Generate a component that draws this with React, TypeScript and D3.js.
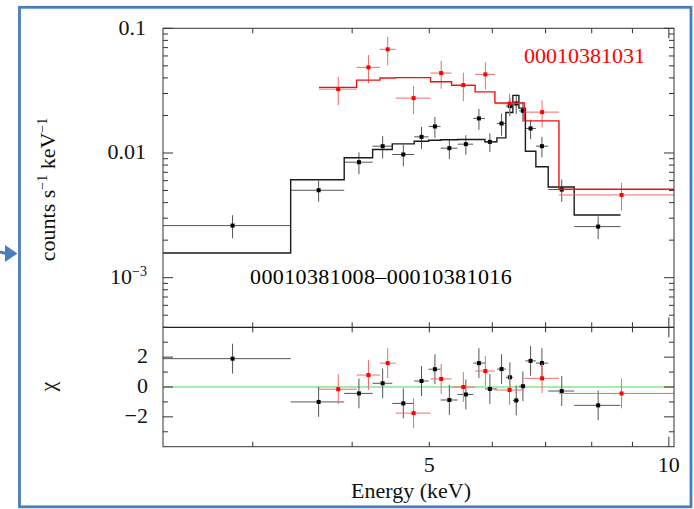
import React from 'react';
import * as d3 from 'd3';

// ---------- data ----------
const blackEdges = [2.314, 3.348, 3.909, 4.244, 4.492, 4.786, 4.99, 5.166, 5.426, 5.677, 5.873, 6.08, 6.24, 6.368, 6.48, 6.603, 6.806, 7.053, 7.604, 8.695];
const blackEnergy = [2.83, 3.63, 4.079, 4.369, 4.638, 4.889, 5.082, 5.299, 5.558, 5.772, 5.958, 6.163, 6.313, 6.43, 6.555, 6.703, 6.926, 7.335, 8.15];
const blackRate = [0.002617, 0.005025, 0.008436, 0.01134, 0.009727, 0.01347, 0.01633, 0.01093, 0.01177, 0.01893, 0.01228, 0.01725, 0.02376, 0.02497, 0.02179, 0.01573, 0.01134, 0.005091, 0.002568];
const blackErr = [0.00055, 0.00096, 0.00167, 0.0023, 0.0019, 0.0027, 0.0031, 0.002, 0.0021, 0.0036, 0.0021, 0.0035, 0.004, 0.0044, 0.004, 0.0028, 0.0021, 0.00104, 0.00053];
const blackModel = [0.001576, 0.006103, 0.009168, 0.010668, 0.011833, 0.012435, 0.012667, 0.012785, 0.012833, 0.012833, 0.01228, 0.013225, 0.02115, 0.02896, 0.0229, 0.010339, 0.007762, 0.005342, 0.003183];
const blackChi = [1.9, -1.0, -0.43, 0.25, -1.1, 0.4, 1.19, -0.87, -0.5, 1.6, -0.13, 1.2, 0.65, -0.9, 0.05, 1.75, 1.6, -0.27, -1.23];
const blackChiErr = [1, 1, 1, 1, 1, 1, 1, 1, 1, 1, 1, 1, 1, 1, 1, 1, 1, 1, 1];

const redEdges = [3.633, 4.052, 4.335, 4.536, 5.019, 5.333, 5.71, 6.045, 6.58, 7.276, 10.17];
const redEnergy = [3.842, 4.193, 4.433, 4.778, 5.175, 5.518, 5.881, 6.307, 6.93, 8.721];
const redRate = [0.03254, 0.04861, 0.0678, 0.02755, 0.04375, 0.03504, 0.04271, 0.02489, 0.02127, 0.004607];
const redErr = [0.0083, 0.0124, 0.0175, 0.007, 0.011, 0.009, 0.0105, 0.005, 0.0052, 0.00116];
const redModel = [0.03358, 0.03843, 0.03989, 0.0402, 0.03724, 0.03484, 0.0309, 0.02525, 0.0181, 0.00512];
const redChi = [-0.15, 0.8, 1.6, -1.75, 0.54, 0.0, 1.07, -0.2, 0.58, -0.43];
const redChiErr = [1, 1, 1, 1, 1, 1, 1, 1, 1, 1];

const xMinorTicks = [3, 4, 5, 6, 7, 8, 9];
const xMajorTicks = [10];
const xTickLabels = [5, 10];
const yTopMajor = [0.001, 0.01, 0.1];
const resMajor = [-2, 0, 2];
const resMinor = [-3, -1, 1, 3];

const redLabel = '00010381031';
const blackLabel = '00010381008–00010381016';

// ---------- layout ----------
const W = 694, H = 509;
const L = 163, R = 674, T = 28.3, M = 327.3, B = 446.7;
const FONT = "'Liberation Serif', 'Times New Roman', serif";

export default function App() {
  const x = d3.scaleLog().domain([2.314, 10.15]).range([L, R]);
  const yTop = d3.scaleLog().domain([4e-4, 0.1]).range([M, T]);
  const yRes = d3.scaleLinear().domain([-4, 4]).range([B, M]);

  const yTopMinor: number[] = [];
  [1e-4, 1e-3, 1e-2].forEach((d) => {
    for (let k = 2; k <= 9; k++) {
      const v = k * d;
      if (v >= 4e-4 && v < 0.1) yTopMinor.push(v);
    }
  });

  const line = d3.line();
  const step = (edges: number[], model: number[], y: (v: number) => number) => {
    const pts: [number, number][] = [];
    model.forEach((m, i) => {
      pts.push([x(edges[i]), y(m)]);
      pts.push([x(edges[i + 1]), y(m)]);
    });
    return line(pts) || '';
  };

  const crosses = (
    edges: number[], energy: number[], vals: number[], errs: number[],
    y: (v: number) => number, isLog: boolean, barColor: string, dotColor: string, key: string
  ) =>
    energy.map((e, i) => {
      const cx = x(e);
      const cy = y(vals[i]);
      const lo = isLog ? Math.max(vals[i] - errs[i], 1e-6) : vals[i] - errs[i];
      return (
        <g key={key + i}>
          <line x1={x(edges[i])} x2={x(edges[i + 1])} y1={cy} y2={cy} stroke={barColor} strokeWidth={1} />
          <line x1={cx} x2={cx} y1={y(lo)} y2={y(vals[i] + errs[i])} stroke={barColor} strokeWidth={1} />
          <rect x={cx - 2} y={cy - 2} width={4} height={4} fill={dotColor} />
        </g>
      );
    });

  const tickColor = '#333';
  const xTicks = (yEdge: number, dir: number) => (
    <>
      {xMinorTicks.map((t) => (
        <line key={'xm' + yEdge + dir + t} x1={x(t)} x2={x(t)} y1={yEdge} y2={yEdge + dir * 5} stroke={tickColor} />
      ))}
      {xMajorTicks.map((t) => (
        <line key={'xM' + yEdge + dir + t} x1={x(t)} x2={x(t)} y1={yEdge} y2={yEdge + dir * 10} stroke={tickColor} />
      ))}
    </>
  );
  const yTicks = (vals: number[], len: number, y: (v: number) => number, k: string) =>
    vals.map((v) => (
      <g key={k + v}>
        <line x1={L} x2={L + len} y1={y(v)} y2={y(v)} stroke={tickColor} />
        <line x1={R} x2={R - len} y1={y(v)} y2={y(v)} stroke={tickColor} />
      </g>
    ));

  const blue = '#4a7ebb';

  return (
    <svg width={W} height={H} style={{ position: 'absolute', left: 0, top: 0, background: '#fff', fontFamily: FONT }}>
      <rect x={0} y={0} width={W} height={H} fill="#fff" />
      <defs>
        <clipPath id="clipTop"><rect x={L} y={T} width={R - L} height={M - T} /></clipPath>
        <clipPath id="clipRes"><rect x={L} y={M} width={R - L} height={B - M} /></clipPath>
      </defs>

      {/* blue frame and arrow */}
      <rect x={19.5} y={7.3} width={671.5} height={499.5} fill="none" stroke={blue} strokeWidth={2.8} />
      <line x1={0} y1={252} x2={8} y2={254} stroke={blue} strokeWidth={3} />
      <path d="M5,245 L17.5,253.5 L5,262 Z" fill={blue} />

      {/* top panel data */}
      <g clipPath="url(#clipTop)">
        {crosses(blackEdges, blackEnergy, blackRate, blackErr, yTop, true, '#555', '#000', 'bt')}
        <path d={step(blackEdges, blackModel, yTop)} fill="none" stroke="#1a1a1a" strokeWidth={1.4} />
        {crosses(redEdges, redEnergy, redRate, redErr, yTop, true, '#f06a6a', '#f00', 'rt')}
        <path d={step(redEdges, redModel, yTop)} fill="none" stroke="#e81515" strokeWidth={1.4} />
      </g>

      {/* residual panel */}
      <g clipPath="url(#clipRes)">
        <line x1={L} x2={R} y1={yRes(0)} y2={yRes(0)} stroke="#49dd49" strokeWidth={1.2} />
        {crosses(blackEdges, blackEnergy, blackChi, blackChiErr, yRes, false, '#555', '#000', 'br')}
        {crosses(redEdges, redEnergy, redChi, redChiErr, yRes, false, '#f06a6a', '#f00', 'rr')}
      </g>

      {/* frames */}
      <rect x={L} y={T} width={R - L} height={B - T} fill="none" stroke="#333" strokeWidth={1} />
      <line x1={L} x2={R} y1={M} y2={M} stroke="#222" strokeWidth={1.2} />

      {/* ticks */}
      {xTicks(T, 1)}
      {xTicks(M, -1)}
      {xTicks(M, 1)}
      {xTicks(B, -1)}
      {yTicks(yTopMajor, 10, yTop, 'ytM')}
      {yTicks(yTopMinor, 5, yTop, 'ytm')}
      {yTicks(resMajor, 10, yRes, 'yrM')}
      {yTicks(resMinor, 5, yRes, 'yrm')}

      {/* tick labels */}
      <g fontSize={22} fill="#111" style={{ fontFamily: FONT }}>
        <text x={146} y={yTop(0.1) + 6.5} textAnchor="end">0.1</text>
        <text x={146} y={yTop(0.01) + 6.5} textAnchor="end">0.01</text>
        <text x={147} y={yTop(0.001) + 6.5} textAnchor="end">
          10<tspan fontSize={14} dy={-8}>−3</tspan>
        </text>
        {resMajor.map((v) => (
          <text key={'rl' + v} x={148} y={yRes(v) + 6} textAnchor="end">{v < 0 ? '−' + Math.abs(v) : String(v)}</text>
        ))}
        {xTickLabels.map((v) => (
          <text key={'xl' + v} x={x(v)} y={471.5} textAnchor="middle">{v}</text>
        ))}
        <text x={411} y={498} textAnchor="middle">Energy (keV)</text>
        <text transform="translate(55,189.5) rotate(-90)" textAnchor="middle">
          counts s<tspan fontSize={14} dy={-8}>−1</tspan><tspan dy={8}> keV</tspan><tspan fontSize={14} dy={-8}>−1</tspan>
        </text>
        <text transform="translate(55,386.7) rotate(-90)" textAnchor="middle">χ</text>
        <text x={524} y={63} fill="#f00">{redLabel}</text>
        <text x={250} y={284.3} fill="#000" textLength={261.7} lengthAdjust="spacing">{blackLabel}</text>
      </g>
    </svg>
  );
}
